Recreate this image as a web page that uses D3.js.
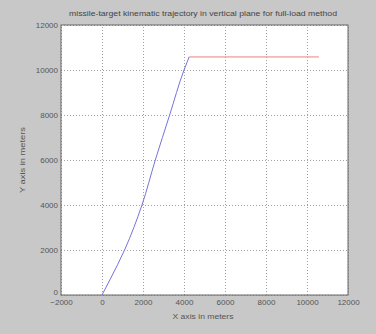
<!DOCTYPE html>
<html><head><meta charset="utf-8">
<script src="https://cdn.jsdelivr.net/npm/d3@7"></script>
<style>html,body{margin:0;padding:0;background:#c8c8c8;}svg{display:block;}</style>
</head><body>
<script>
const titleText = "missile-target kinematic trajectory in vertical plane for full-load method";
const xLabel = "X axis in meters";
const yLabel = "Y axis in meters";
const xTicks = [-2000, 0, 2000, 4000, 6000, 8000, 10000, 12000];
const yTicks = [0, 2000, 4000, 6000, 8000, 10000, 12000];
const missileX = [0, 400, 1100, 1950, 2600, 3300, 4000, 4250];
const missileY = [0, 700, 2000, 4000, 6000, 8000, 10000, 10580];
const targetX = [4250, 10580];
const targetY = [10580, 10580];

const W = 376, H = 334;
const m = {l: 61, r: 28, t: 25, b: 39};
const FONT = "Liberation Sans, Arial, sans-serif";
const svg = d3.select("body").append("svg").attr("width", W).attr("height", H);
svg.append("rect").attr("width", W).attr("height", H).attr("fill", "#c8c8c8");
const x = d3.scaleLinear().domain([-2000, 12000]).range([m.l, W - m.r]);
const y = d3.scaleLinear().domain([0, 12000]).range([H - m.b, m.t]);

svg.append("rect").attr("x", m.l).attr("y", m.t).attr("width", W - m.r - m.l).attr("height", H - m.b - m.t).attr("fill", "#fff");

const gx = svg.append("g").attr("transform", `translate(0,${H - m.b})`)
  .call(d3.axisBottom(x).tickValues(xTicks).tickSize(-(H - m.b - m.t)).tickPadding(4).tickFormat(d3.format("d")));
const gy = svg.append("g").attr("transform", `translate(${m.l},0)`)
  .call(d3.axisLeft(y).tickValues(yTicks).tickSize(-(W - m.r - m.l)).tickPadding(3).tickFormat(d3.format("d")));
[gx, gy].forEach(g => {
  g.select(".domain").remove();
  g.selectAll(".tick line").attr("stroke", "#888").attr("stroke-width", 0.8).attr("stroke-dasharray", "1,2");
  g.selectAll(".tick text").attr("fill", "#555").attr("font-family", FONT).attr("font-size", 8);
});
gy.selectAll(".tick").filter(d => d === 0).select("text").attr("dy", "-0.05em");

svg.append("rect").attr("x", m.l).attr("y", m.t).attr("width", W - m.r - m.l).attr("height", H - m.b - m.t)
  .attr("fill", "none").attr("stroke", "#666").attr("stroke-width", 1);

const line = d3.line().x(d => x(d[0])).y(d => y(d[1])).curve(d3.curveMonotoneY);
svg.append("path").datum(missileX.map((v, i) => [v, missileY[i]])).attr("d", line)
  .attr("fill", "none").attr("stroke", "#7474dc").attr("stroke-width", 1);
svg.append("path").datum(targetX.map((v, i) => [v, targetY[i]])).attr("d", d3.line().x(d => x(d[0])).y(d => y(d[1])))
  .attr("fill", "none").attr("stroke", "#ec8080").attr("stroke-width", 1);

svg.append("text").attr("x", 203).attr("y", 16).attr("text-anchor", "middle")
  .attr("textLength", 268).attr("lengthAdjust", "spacingAndGlyphs")
  .attr("font-family", FONT).attr("font-size", 7).attr("fill", "#444").text(titleText);
svg.append("text").attr("x", 203).attr("y", 319).attr("text-anchor", "middle")
  .attr("textLength", 61).attr("lengthAdjust", "spacingAndGlyphs")
  .attr("font-family", FONT).attr("font-size", 7.5).attr("fill", "#555").text(xLabel);
svg.append("text").attr("transform", `translate(25,160) rotate(-90)`).attr("text-anchor", "middle")
  .attr("textLength", 66).attr("lengthAdjust", "spacingAndGlyphs")
  .attr("font-family", FONT).attr("font-size", 7.5).attr("fill", "#555").text(yLabel);
</script>
</body></html>
